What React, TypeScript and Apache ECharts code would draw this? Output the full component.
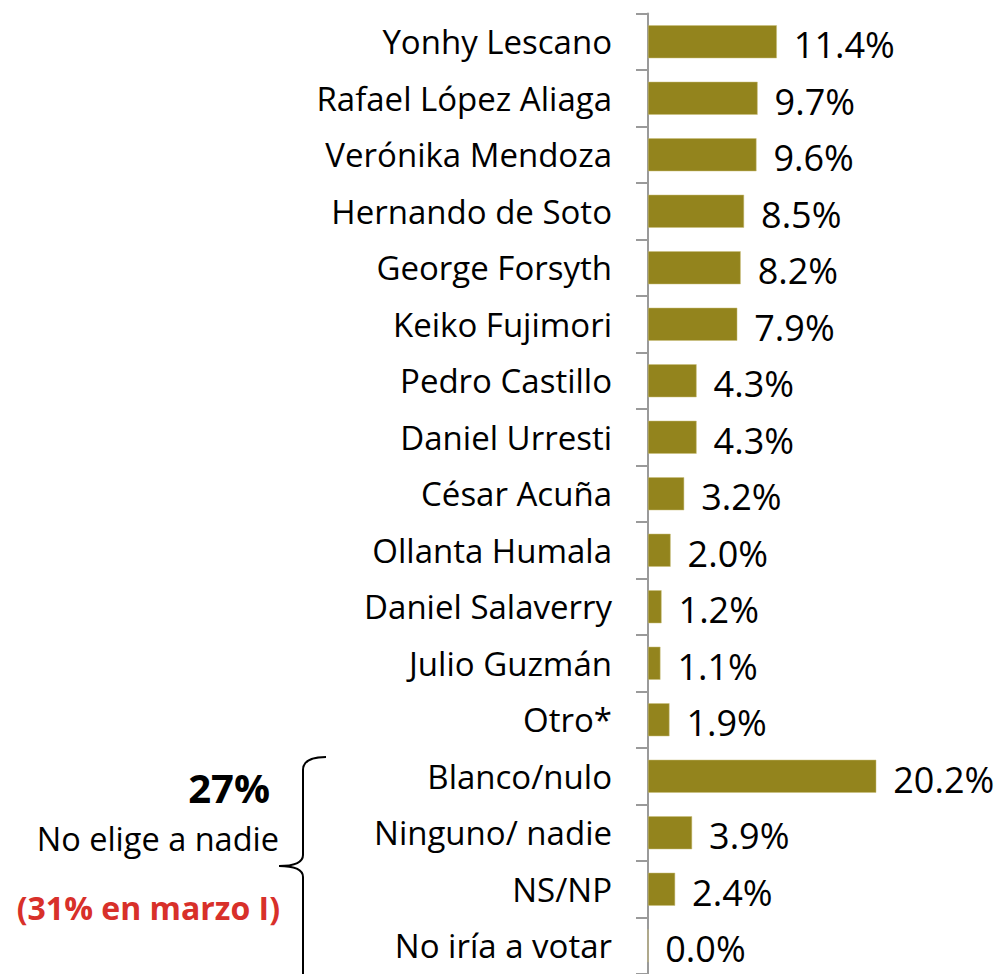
import React, { useEffect, useRef } from "react";
import * as echarts from "echarts";

const categories = [
  "Yonhy Lescano",
  "Rafael López Aliaga",
  "Verónika Mendoza",
  "Hernando de Soto",
  "George Forsyth",
  "Keiko Fujimori",
  "Pedro Castillo",
  "Daniel Urresti",
  "César Acuña",
  "Ollanta Humala",
  "Daniel Salaverry",
  "Julio Guzmán",
  "Otro*",
  "Blanco/nulo",
  "Ninguno/ nadie",
  "NS/NP",
  "No iría a votar",
];
const values = [11.4, 9.7, 9.6, 8.5, 8.2, 7.9, 4.3, 4.3, 3.2, 2.0, 1.2, 1.1, 1.9, 20.2, 3.9, 2.4, 0.0];

const noteTotal = "27%";
const noteLabel = "No elige a nadie";
const noteCompare = "(31% en marzo I)";

const FONT = "'Open Sans', Lato, sans-serif";

export default function App() {
  const ref = useRef<HTMLDivElement>(null);
  useEffect(() => {
    if (!ref.current) return;
    echarts.graphic.registerShape(
      "brace",
      echarts.graphic.extendPath(
        "M326,757 Q303,757 303,770 L303,855 Q303,866 279,866 Q303,866 303,877 L303,990",
        {}
      )
    );
    const chart = echarts.init(ref.current, null, { renderer: "svg" });
    chart.setOption({
      animation: false,
      backgroundColor: "#ffffff",
      grid: { left: 648, top: 13.5, width: 339, height: 964, containLabel: false },
      xAxis: {
        type: "value",
        min: 0,
        max: 30,
        show: false,
      },
      yAxis: {
        type: "category",
        inverse: true,
        data: categories,
        axisLine: { show: true, lineStyle: { color: "#9a9a9a", width: 2 } },
        axisTick: { show: true, length: 12, lineStyle: { color: "#9a9a9a", width: 2 } },
        axisLabel: {
          color: "#000",
          fontSize: 33,
          fontFamily: FONT,
          margin: 36,
        },
        splitLine: { show: false },
      },
      series: [
        {
          type: "bar",
          data: values,
          barWidth: 33,
          itemStyle: { color: "#93841d", borderColor: "#c8bf7a", borderWidth: 0.5 },
          label: {
            show: true,
            position: "right",
            distance: 17,
            color: "#000",
            fontSize: 36,
            fontFamily: FONT,
            offset: [0, 3],
            formatter: (p: any) => p.value.toFixed(1) + "%",
          },
        },
      ],
      graphic: [
        {
          type: "text",
          x: 270,
          y: 787,
          style: {
            text: noteTotal,
            fill: "#000",
            font: `bold 40px ${FONT}`,
            textAlign: "right",
            textVerticalAlign: "middle",
          },
        },
        {
          type: "text",
          x: 279,
          y: 838,
          style: {
            text: noteLabel,
            fill: "#000",
            font: `32.5px ${FONT}`,
            textAlign: "right",
            textVerticalAlign: "middle",
          },
        },
        {
          type: "text",
          x: 280,
          y: 907,
          style: {
            text: noteCompare,
            fill: "#d8302a",
            font: `bold 32px ${FONT}`,
            textAlign: "right",
            textVerticalAlign: "middle",
          },
        },
        {
          type: "brace",
          x: 0,
          y: 0,
          style: { stroke: "#000", lineWidth: 2, fill: "none" },
        },
      ],
    });
    return () => chart.dispose();
  }, []);
  return (
    <div
      ref={ref}
      style={{ position: "fixed", left: 0, top: 0, width: 1007, height: 974 }}
    />
  );
}
